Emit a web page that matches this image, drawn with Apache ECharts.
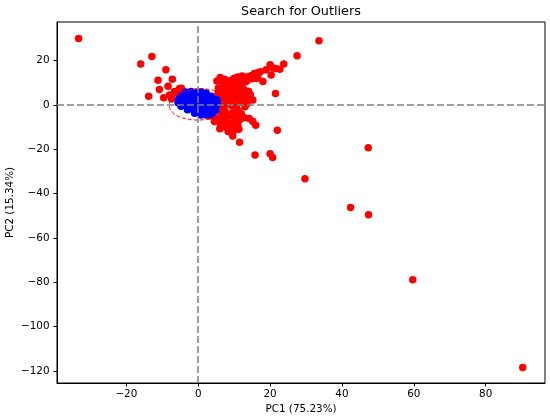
<!DOCTYPE html>
<html>
<head>
<meta charset="utf-8">
<script src="https://cdn.jsdelivr.net/npm/echarts@6/dist/echarts.min.js"></script>
<style>html,body{margin:0;padding:0;background:#fff}#c{width:550px;height:420px}</style>
</head>
<body>
<div id="c"></div>
<script>
// ---- data ----
const titleText = 'Search for Outliers';
const xName = 'PC1 (75.23%)';
const yName = 'PC2 (15.34%)';

// outliers (red): [PC1, PC2]
const outliers = [
  [-33.3, 29.9], [-16.0, 18.4], [-12.9, 21.8], [-9.0, 15.8], [-11.2, 11.1], [-7.2, 11.6],
  [-10.8, 6.9], [-8.4, 8.4], [-13.8, 3.9], [-9.6, 3.2], [-4.7, 7.5], [-6.0, 5.3], [-7.4, 2.7],
  [-5.5, 6.5], [-8.0, 4.5], [-6.6, 6.0], [-5.2, 7.4],
  [33.6, 28.9], [27.5, 22.2], [23.8, 18.5], [22.7, 16.1], [21.5, 16.4], [20.0, 18.1], [20.8, 16.6],
  [18.9, 15.8], [17.3, 15.0], [15.7, 14.3], [20.3, 13.5], [18.0, 10.5], [16.2, 12.0], [21.5, 5.1],
  [22.0, -11.4], [47.3, -19.4], [15.8, -22.6], [20.0, -22.1], [20.7, -23.8], [29.7, -33.3],
  [42.4, -46.3], [47.4, -49.6], [59.7, -78.9], [90.3, -118.5],
  [6.1, 12.3], [6.0, -10.8], [9.3, -12.7], [9.6, -14.0], [11.5, -16.9], [11.3, -11.0], [13.6, 0.5],
  [14.2, -6.1], [15.2, -7.5], [16.0, -9.2], [10.6, -0.8], [11.5, -6.8], [13.4, 10.5], [9.6, -8.3],
  [5.5, 5.5], [6.5, 6.5], [7.5, 7.8], [8.5, 9.2], [9.5, 10.2], [10.5, 11.0], [11.5, 11.8], [12.5, 12.3],
  [13.5, 12.6], [14.6, 13.2], [15.8, 14.0], [16.8, 14.6],
  [6.8, 4.6], [7.8, 5.6], [8.8, 6.8], [9.8, 8.0], [10.8, 9.1], [11.8, 10.0], [12.8, 10.8], [13.8, 11.3],
  [15.0, 11.8], [16.6, 12.4], [8.0, 9.8], [9.0, 11.0], [10.0, 12.0], [11.0, 12.6], [12.2, 13.0],
  [7.2, 9.0], [6.8, 10.2], [5.6, 7.6], [5.2, 10.8], [7.4, 11.4],
  [6.5, 3.0], [7.5, 2.0], [8.5, 3.5], [9.5, 4.8], [10.5, 5.8], [11.5, 6.8], [12.5, 7.5], [8.0, 0.5],
  [9.0, 1.5], [10.0, 2.5], [11.0, 3.5], [12.0, 4.5], [13.0, 5.5], [14.0, 6.2], [7.0, -0.5], [9.5, -0.5],
  [11.5, 1.2], [12.5, 2.5], [13.5, 3.5], [14.5, 4.6], [15.2, 2.2], [13.0, -0.8],
  [4.0, -3.5], [5.5, -2.5], [6.5, -4.5], [7.5, -3.0], [8.5, -5.0], [9.5, -3.5], [10.5, -5.5],
  [5.0, -6.0], [6.0, -7.5], [7.0, -6.5], [8.0, -8.0], [8.8, -10.0], [7.2, -9.8], [6.2, -9.0],
  [10.0, -7.0], [11.0, -9.2], [12.0, -4.0], [12.8, -5.8], [10.2, -11.3], [8.3, -12.0], [3.0, -5.0],
  [4.5, -7.5], [2.2, -4.6], [6.8, -1.8], [11.2, -2.6]
];

// inliers (blue): [PC1, PC2]
const inliers = [
  [-3.5, 5.8], [-2.0, 6.0], [-0.6, 5.7], [0.8, 5.9], [2.2, 5.4],
  [-4.6, 4.2], [-3.2, 4.4], [-1.8, 4.1], [-0.4, 4.3], [1.0, 4.0], [2.4, 4.2], [3.6, 3.9],
  [-5.4, 2.6], [-4.0, 2.8], [-2.6, 2.5], [-1.2, 2.7], [0.2, 2.4], [1.6, 2.6], [3.0, 2.5], [4.4, 2.7], [5.2, 2.3],
  [-5.6, 1.0], [-4.2, 0.8], [-2.8, 1.1], [-1.4, 0.9], [0.0, 1.0], [1.4, 0.8], [2.8, 1.1], [4.2, 0.9], [5.4, 1.0],
  [-4.8, -0.6], [-3.4, -0.4], [-2.0, -0.7], [-0.6, -0.5], [0.8, -0.6], [2.2, -0.4], [3.6, -0.7], [5.0, -0.5],
  [-3.0, -2.2], [-1.6, -2.0], [-0.2, -2.3], [1.2, -2.1], [2.6, -2.2], [4.0, -2.0], [4.8, -2.4],
  [-1.0, -3.8], [0.4, -3.6], [1.8, -3.9], [3.2, -3.7], [4.2, -3.4],
  [0.8, -4.6], [2.2, -4.5], [3.4, -4.4], [-4.9, 3.5], [4.6, 1.8]
];

// confidence ellipse parameters (data units)
const ellipseCenter = [0.3, 0.2];
const ellipseRadii = [8.4, 7.0];
const ellipseAngleDeg = 10;

const xRange = [-39.3, 96.5];
const yRange = [-125.5, 37.4];

const FONT = 'DejaVu Sans';
const minus = v => String(v).replace('-', '\u2212');

const chart = echarts.init(document.getElementById('c'), null, {renderer: 'canvas'});
chart.setOption({
  animation: false,
  backgroundColor: '#ffffff',
  title: {
    text: titleText, left: 301, top: 5, textAlign: 'center', padding: 0,
    textStyle: {fontFamily: FONT, fontSize: 12.8, fontWeight: 'normal', color: '#000'}
  },
  grid: {left: 57, right: 5, top: 22, bottom: 37, show: true, borderColor: '#000', borderWidth: 1,
         backgroundColor: 'transparent', outerBoundsMode: 'none', containLabel: false},
  xAxis: {
    type: 'value', min: xRange[0], max: xRange[1], splitNumber: 7,
    name: xName, nameLocation: 'middle', nameGap: 21, nameMoveOverlap: false,
    nameTextStyle: {fontFamily: FONT, fontSize: 10.4, color: '#000'},
    axisLine: {show: true, onZero: false, lineStyle: {color: '#000', width: 1}},
    axisTick: {show: true, length: 3.5, inside: false, lineStyle: {color: '#000'}},
    axisLabel: {fontFamily: FONT, fontSize: 10.4, color: '#000', margin: 6.5, showMinLabel: false, showMaxLabel: false, formatter: minus},
    splitLine: {show: false}
  },
  yAxis: {
    type: 'value', min: yRange[0], max: yRange[1], splitNumber: 8,
    name: yName, nameLocation: 'middle', nameGap: 42, nameMoveOverlap: false,
    nameTextStyle: {fontFamily: FONT, fontSize: 10.4, color: '#000'},
    axisLine: {show: true, onZero: false, lineStyle: {color: '#000', width: 1}},
    axisTick: {show: true, length: 3.5, inside: false, lineStyle: {color: '#000'}},
    axisLabel: {fontFamily: FONT, fontSize: 10.4, color: '#000', margin: 7.5, showMinLabel: false, showMaxLabel: false, formatter: minus},
    splitLine: {show: false}
  },
  series: [
    {
      type: 'scatter', name: 'outliers', data: outliers, symbolSize: 7.5,
      itemStyle: {color: '#ff0000', opacity: 1}, z: 2
    },
    {
      type: 'scatter', name: 'inliers', data: inliers, symbolSize: 7.5,
      itemStyle: {color: '#0000ff', opacity: 1}, z: 3
    },
    {
      type: 'custom', name: 'ellipse', data: [ellipseCenter], z: 4, silent: true,
      renderItem: function (params, api) {
        const cx = api.value(0), cy = api.value(1);
        const a = ellipseRadii[0], b = ellipseRadii[1];
        const ang = ellipseAngleDeg * Math.PI / 180;
        const pts = [];
        for (let i = 0; i <= 120; i++) {
          const t = i / 120 * 2 * Math.PI;
          const ex = a * Math.cos(t), ey = b * Math.sin(t);
          pts.push(api.coord([cx + ex * Math.cos(ang) - ey * Math.sin(ang), cy + ex * Math.sin(ang) + ey * Math.cos(ang)]));
        }
        return {type: 'polyline', shape: {points: pts}, style: {stroke: '#ff0000', fill: null, lineWidth: 1, lineDash: [4, 2]}};
      }
    },
    {
      type: 'scatter', name: 'zero', data: [], z: 5,
      markLine: {
        silent: true, symbol: 'none', animation: false,
        label: {show: false},
        lineStyle: {color: '#808080', width: 1.5, type: [7, 3]},
        data: [{xAxis: 0}, {yAxis: 0}]
      }
    }
  ]
});
</script>
</body>
</html>
